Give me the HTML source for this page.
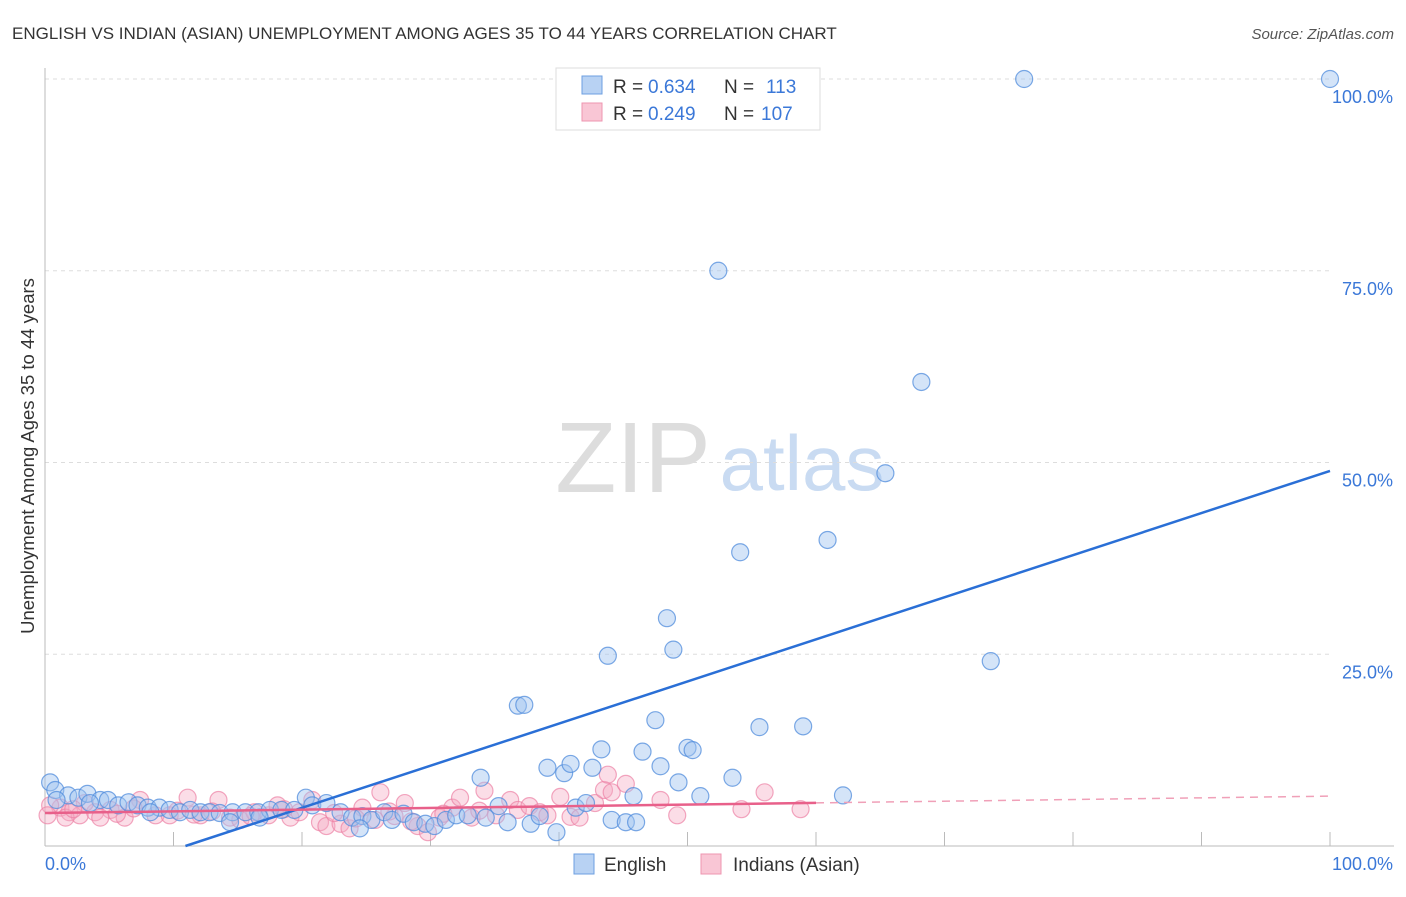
<!DOCTYPE html>
<html><head><meta charset="utf-8"><style>
body{margin:0;background:#fff;font-family:"Liberation Sans",sans-serif}
svg text{font-family:"Liberation Sans",sans-serif}
</style></head><body>
<svg id="chart" width="1406" height="892" xmlns="http://www.w3.org/2000/svg">
<text x="12" y="39" font-size="17" fill="#333">ENGLISH VS INDIAN (ASIAN) UNEMPLOYMENT AMONG AGES 35 TO 44 YEARS CORRELATION CHART</text>
<text x="1394" y="39" font-size="15" fill="#555" text-anchor="end" font-style="italic">Source: ZipAtlas.com</text>
<g>
<text x="633" y="492" font-size="100" fill="#ddd" text-anchor="middle" font-family="Liberation Serif">ZIP</text>
<text x="802" y="490" font-size="78" fill="#c9dbf2" text-anchor="middle">atlas</text>
</g>
<text transform="translate(34,456) rotate(-90)" font-size="18.5" fill="#333" text-anchor="middle">Unemployment Among Ages 35 to 44 years</text>
<g id="grid"></g><g id="axes"></g><g id="pink"></g><g id="blue"></g><g id="lines"></g>
<g>
<rect x="556" y="68" width="264" height="62" fill="#fff" stroke="#ddd"/>
<rect x="582" y="76" width="20" height="18" fill="#b8d2f3" stroke="#6d9fe0"/>
<rect x="582" y="103" width="20" height="18" fill="#f9c6d5" stroke="#ee95b0"/>
<text x="613" y="93" font-size="19" fill="#333">R =</text>
<text x="648" y="93" font-size="19" fill="#3b78d8">0.634</text>
<text x="724" y="93" font-size="19" fill="#333">N =</text>
<text x="766" y="93" font-size="19" fill="#3b78d8">113</text>
<text x="613" y="120" font-size="19" fill="#333">R =</text>
<text x="648" y="120" font-size="19" fill="#3b78d8">0.249</text>
<text x="724" y="120" font-size="19" fill="#333">N =</text>
<text x="761" y="120" font-size="19" fill="#3b78d8">107</text>
</g>
<g>
<rect x="574" y="854" width="20" height="20" fill="#b8d2f3" stroke="#6d9fe0"/>
<text x="604" y="871" font-size="19" fill="#333">English</text>
<rect x="701" y="854" width="20" height="20" fill="#f9c6d5" stroke="#ee95b0"/>
<text x="733" y="871" font-size="19" fill="#333">Indians (Asian)</text>
</g>
</svg>
<script>
const yTicks=[25,50,75,100];
const yTickLabels=["25.0%","50.0%","75.0%","100.0%"];
const englishX=[0.4,0.8,1.8,2.6,3.3,4.3,4.9,5.7,6.5,7.2,8.0,8.9,9.7,10.5,11.3,12.1,12.8,13.6,14.6,15.6,16.6,17.5,18.4,19.4,20.3,20.8,21.9,23.0,23.9,24.7,25.4,26.4,27.0,27.9,28.7,29.6,30.3,31.2,32.0,32.9,33.9,34.3,35.3,36.0,36.8,37.3,37.8,38.5,39.1,39.8,40.4,40.9,41.3,42.1,42.6,43.3,43.8,44.1,45.2,46.0,45.8,46.5,47.5,47.9,48.4,48.9,49.3,50.0,50.4,51.0,52.4,53.5,54.1,55.6,59.0,60.9,62.1,65.4,68.2,73.6,76.2,100,0.9,3.5,8.2,14.4,16.7,24.5];
const englishY=[8.3,7.3,6.6,6.3,6.8,6.0,6.0,5.3,5.7,5.3,5.0,5.0,4.7,4.4,4.7,4.4,4.4,4.3,4.4,4.4,4.4,4.7,4.7,4.7,6.3,5.3,5.6,4.4,3.7,3.9,3.4,4.4,3.4,4.2,3.1,2.9,2.6,3.4,4.0,4.0,8.9,3.7,5.2,3.1,18.3,18.4,2.9,3.9,10.2,1.8,9.5,10.7,5.0,5.6,10.2,12.6,24.8,3.4,3.1,3.1,6.5,12.3,16.4,10.4,29.7,25.6,8.3,12.8,12.5,6.5,75.0,8.9,38.3,15.5,15.6,39.9,6.6,48.6,60.5,24.1,100,100,6.0,5.6,4.4,3.1,3.7,2.3];
const indianX=[1.2,1.9,2.7,3.9,5.1,6.2,7.4,8.6,9.7,11.1,12.1,13.5,14.4,15.2,16.3,17.4,18.1,19.1,19.8,20.8,21.4,21.9,23.0,23.7,24.7,25.7,26.1,27.2,28.0,29.0,29.8,30.7,31.7,32.3,33.2,34.2,35.1,36.2,36.8,37.7,38.5,39.1,40.1,40.9,41.6,42.8,43.5,43.8,44.1,45.2,47.9,49.2,54.2,56.0,58.8,0.4,0.2,1.6,3.1,4.3,2.2,5.6,6.9,10.3,11.6,13.0,16.0,18.6,22.5,24.2,26.8,28.5,31.0,33.8];
const indianY=[5.0,4.4,4.0,4.4,4.7,3.7,6.0,4.0,4.0,6.3,4.0,6.0,3.7,3.4,4.4,4.0,5.3,3.7,4.4,6.0,3.1,2.6,2.9,2.3,5.0,3.4,7.0,3.9,5.6,2.6,1.8,3.7,5.0,6.3,3.7,7.2,4.0,6.0,4.7,5.2,4.4,4.0,6.4,3.8,3.7,5.6,7.3,9.3,7.0,8.1,6.0,4.0,4.8,7.0,4.8,5.3,4.0,3.7,5.6,3.7,4.8,4.2,4.9,4.6,4.1,4.5,3.9,4.8,4.3,3.6,4.5,3.2,4.2,4.6];
const englishTrend=[-6.0,54.9];
const indianTrend=[4.3,2.2];
const NS="http://www.w3.org/2000/svg";
const X0=45,X1=1330,Y0=846,Y1=79;
const sx=v=>X0+(X1-X0)*v/100, sy=v=>Y0-(Y0-Y1)*v/100;
function mk(t,a,p){const e=document.createElementNS(NS,t);for(const k in a)e.setAttribute(k,a[k]);document.getElementById(p).appendChild(e);return e;}
yTicks.forEach((t,i)=>{
 const g=mk('line',{x1:X0,x2:X1,y1:sy(t),y2:sy(t),stroke:'#ddd','stroke-dasharray':'4,4'},'grid');
 
 
 const l=mk('text',{x:1393,y:sy(t)+24,'font-size':18,fill:'#3b78d8','text-anchor':'end'},'axes');
 l.textContent=yTickLabels[i];
 
 
});
const ax=mk('line',{x1:X0,x2:X0,y1:68,y2:846,stroke:'#bbb'},'axes');


const bx=mk('line',{x1:X0,x2:1394,y1:846,y2:846,stroke:'#bbb'},'axes');


for(let i=1;i<=10;i++){const t=mk('line',{x1:sx(i*10),x2:sx(i*10),y1:832,y2:846,stroke:'#bbb'},'axes');
 
 }
[["0.0%",45,'start'],["100.0%",1393,'end']].forEach(a=>{const t=mk('text',{x:a[1],y:870,'font-size':18,fill:'#3b78d8','text-anchor':a[2]},'axes');t.textContent=a[0];
 
 });
indianX.forEach((v,i)=>{const c=mk('circle',{cx:sx(v),cy:sy(indianY[i]),r:8.5,fill:'rgba(246,170,195,0.4)',stroke:'rgba(236,130,165,0.7)','stroke-width':1.2},'pink');
 
 });
englishX.forEach((v,i)=>{const c=mk('circle',{cx:sx(v),cy:sy(englishY[i]),r:8.5,fill:'rgba(160,196,240,0.45)',stroke:'rgba(80,140,220,0.75)','stroke-width':1.2},'blue');
 
 });
const xs=-englishTrend[0]/englishTrend[1]*100;
const bl=mk('line',{x1:sx(xs),y1:sy(0),x2:sx(100),y2:sy(englishTrend[0]+englishTrend[1]),stroke:'#2a6fd6','stroke-width':2.5},'lines');


const pl=mk('line',{x1:sx(0),y1:sy(indianTrend[0]),x2:sx(60),y2:sy(indianTrend[0]+indianTrend[1]*0.6),stroke:'#e8608a','stroke-width':2.5},'lines');


const pd=mk('line',{x1:sx(60),y1:sy(indianTrend[0]+indianTrend[1]*0.6),x2:sx(100),y2:sy(indianTrend[0]+indianTrend[1]),stroke:'#f0a0b8','stroke-width':1.5,'stroke-dasharray':'8,6'},'lines');


</script>
</body></html>
